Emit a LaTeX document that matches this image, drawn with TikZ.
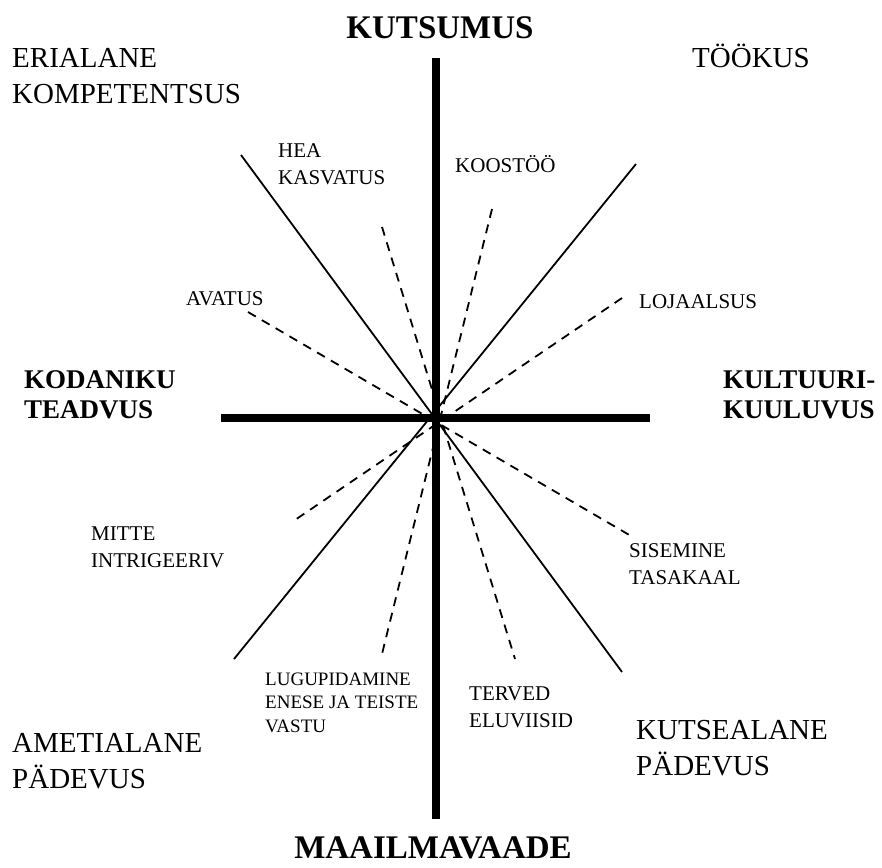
\documentclass[tikz,border=0pt]{standalone}
\usepackage{fontspec}
\setmainfont{Liberation Serif}
\definecolor{inkcol}{RGB}{0,0,0}
\tikzset{
  axisline/.style  = {draw=inkcol, line width=8.5pt},
  diagline/.style  = {draw=inkcol, line width=1.8pt},
  dashline/.style  = {draw=inkcol, line width=1.8pt, dash pattern=on 9pt off 7pt},
  polelbl/.style   = {font=\bfseries\fontsize{33}{40}\selectfont, inner sep=0pt},
  sidelbl/.style   = {font=\bfseries\fontsize{27}{30}\selectfont, inner sep=0pt,
                      align=left, anchor=base west},
  cornerlbl/.style = {font=\fontsize{29}{36}\selectfont, inner sep=0pt,
                      align=left, anchor=base west},
  valuelbl/.style  = {font=\fontsize{21}{27}\selectfont, inner sep=0pt,
                      align=left, anchor=base west},
}

\begin{document}
\begin{tikzpicture}[x=1pt, y=-1pt]

  % ── picture frame ──
  \useasboundingbox (0,0) rectangle (882,867);

  % ──────────────────────────────────────────────
  %  AXES
  % ──────────────────────────────────────────────
  \draw[axisline] (436,58) -- (436,819);
  \draw[axisline] (221,418) -- (650,418);

  % solid diagonals
  \draw[diagline] (241,155) -- (622,672);
  \draw[diagline] (636,164) -- (234,659);

  % dashed rays
  \draw[dashline] (382,227) -- (515,659);
  \draw[dashline] (492,209) -- (382,654);
  \draw[dashline] (248,312) -- (631,536);
  \draw[dashline] (622,298) -- (292,522);

  % ──────────────────────────────────────────────
  %  AXIS LABELS  (base = last line)
  % ──────────────────────────────────────────────
  \node[polelbl, anchor=base] (top)    at (440,38)  {KUTSUMUS};
  \node[polelbl, anchor=base] (bottom) at (433,858) {MAAILMAVAADE};
  \node[sidelbl] (left)  at (24,418)  {KODANIKU\\TEADVUS};
  \node[sidelbl] (right) at (723,418) {KULTUURI-\\KUULUVUS};

  % ──────────────────────────────────────────────
  %  CORNER LABELS
  % ──────────────────────────────────────────────
  \node[cornerlbl] (erialane)  at (12,103)  {ERIALANE\\KOMPETENTSUS};
  \node[cornerlbl] (tookus)    at (692,67)  {TÖÖKUS};
  \node[cornerlbl] (ametial)   at (12,788)  {AMETIALANE\\PÄDEVUS};
  \node[cornerlbl] (kutseal)   at (636,775) {KUTSEALANE\\PÄDEVUS};

  % ──────────────────────────────────────────────
  %  VALUE LABELS
  % ──────────────────────────────────────────────
  \node[valuelbl] (kasvatus)  at (278,184) {HEA\\KASVATUS};
  \node[valuelbl] (koostoo)   at (455,172) {KOOSTÖÖ};
  \node[valuelbl] (avatus)    at (186,305) {AVATUS};
  \node[valuelbl] (lojaal)    at (639,308) {LOJAALSUS};
  \node[valuelbl] (mitte)     at (91,567)  {MITTE\\INTRIGEERIV};
  \node[valuelbl] (sisemine)  at (629,584) {SISEMINE\\TASAKAAL};
  \node[valuelbl, font=\fontsize{19}{23.5}\selectfont]
    (lugupid) at (265,732) {LUGUPIDAMINE\\ENESE JA TEISTE\\VASTU};
  \node[valuelbl] (terved)    at (469,727) {TERVED\\ELUVIISID};

\end{tikzpicture}
\end{document}
